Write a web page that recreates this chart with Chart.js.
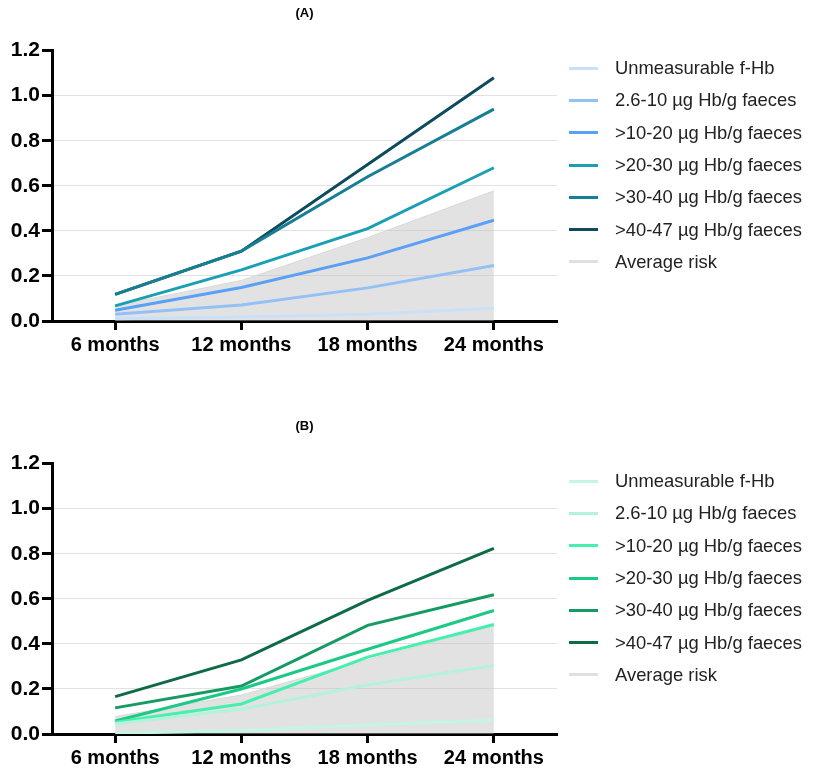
<!DOCTYPE html>
<html lang="en">
<head>
    <meta charset="UTF-8">
    <title>f-Hb risk over time</title>
    <script src="https://cdn.jsdelivr.net/npm/chart.js"></script>
    <style>
        body {
            margin: 0;
            background: #fff;
            font-family: "Liberation Sans", Arial, sans-serif;
        }

        .panel {
            position: absolute;
            left: 0;
            width: 813px;
        }

        .plot {
            position: absolute;
            left: 0;
            top: 0;
            width: 570px;
        }

        .legend {
            position: absolute;
            left: 569px;
            top: 52px;
            margin: 0;
            padding: 0;
            list-style: none;
        }

        .legend li {
            display: flex;
            align-items: center;
            height: 32.3px;
            font-size: 18.4px;
            color: #222;
            white-space: nowrap;
        }

        .legend .swatch {
            display: inline-block;
            width: 29px;
            height: 3px;
            margin-right: 17px;
        }
    </style>
</head>
<body>
    <div class="panel" style="top:0;height:370px">
        <div class="plot" style="height:370px"><canvas id="chartA"></canvas></div>
        <ul class="legend" id="legendA"></ul>
    </div>

    <div class="panel" style="top:413px;height:363px">
        <div class="plot" style="height:363px"><canvas id="chartB"></canvas></div>
        <ul class="legend" id="legendB"></ul>
    </div>

    <script>
        const months = ['6 months', '12 months', '18 months', '24 months'];
        const seriesLabels = [
            'Unmeasurable f-Hb',
            '2.6-10 µg Hb/g faeces',
            '>10-20 µg Hb/g faeces',
            '>20-30 µg Hb/g faeces',
            '>30-40 µg Hb/g faeces',
            '>40-47 µg Hb/g faeces'
        ];
        const avgLabel = 'Average risk';
        const yTicks = [0, 0.2, 0.4, 0.6, 0.8, 1.0, 1.2];

        // Panel A values
        const unmeasA = [0.01, 0.018, 0.03, 0.057];
        const f2to10A = [0.03, 0.071, 0.147, 0.246];
        const f10to20A = [0.048, 0.149, 0.28, 0.447];
        const f20to30A = [0.067, 0.227, 0.41, 0.68];
        const f30to40A = [0.118, 0.31, 0.64, 0.94];
        const f40to47A = [0.118, 0.31, 0.695, 1.08];
        const avgA = [0.068, 0.18, 0.37, 0.578];

        // Panel B values
        const unmeasB = [0.003, 0.015, 0.04, 0.062];
        const f2to10B = [0.045, 0.11, 0.218, 0.304];
        const f10to20B = [0.052, 0.133, 0.341, 0.486];
        const f20to30B = [0.058, 0.2, 0.376, 0.548];
        const f30to40B = [0.116, 0.213, 0.482, 0.618];
        const f40to47B = [0.166, 0.329, 0.593, 0.824];
        const avgB = [0.077, 0.173, 0.33, 0.48];

        const coloursA = ['#c9e0f8', '#94c1f5', '#5aa0f5', '#1a9fb5', '#167f93', '#0e4b5c'];
        const coloursB = ['#c3f6e3', '#b2f3da', '#45f0ae', '#1cc985', '#159a63', '#0f6b45'];

        function buildLegend(id, colours) {
            const ul = document.getElementById(id);
            const items = seriesLabels.map((label, i) => [label, colours[i]]);
            items.push([avgLabel, '#e0e0e0']);
            items.forEach(([label, colour]) => {
                const li = document.createElement('li');
                const sw = document.createElement('span');
                sw.className = 'swatch';
                sw.style.background = colour;
                li.appendChild(sw);
                li.appendChild(document.createTextNode(label));
                ul.appendChild(li);
            });
        }

        function buildChart(id, title, series, avg, colours, xHeight) {
            const datasets = series.map((values, i) => ({
                label: seriesLabels[i],
                data: values,
                borderColor: colours[i],
                backgroundColor: colours[i],
                borderWidth: 3,
                pointRadius: 0,
                tension: 0,
                fill: false,
                order: 1
            }));
            datasets.push({
                label: avgLabel,
                data: avg,
                borderColor: '#d8d8d8',
                backgroundColor: 'rgba(190,190,190,0.44)',
                borderWidth: 1,
                pointRadius: 0,
                tension: 0,
                fill: 'origin',
                order: 10
            });

            new Chart(document.getElementById(id), {
                type: 'line',
                data: { labels: months, datasets: datasets },
                options: {
                    responsive: true,
                    maintainAspectRatio: false,
                    animation: false,
                    layout: { padding: { left: 0, right: 13, top: 0, bottom: 0 } },
                    plugins: {
                        legend: { display: false },
                        tooltip: { enabled: false },
                        title: {
                            display: true,
                            text: title,
                            fullSize: false,
                            color: '#000',
                            font: { family: 'Liberation Sans', size: 13, weight: 'bold' },
                            padding: { top: 6, bottom: 29 }
                        }
                    },
                    scales: {
                        x: {
                            type: 'category',
                            offset: true,
                            border: { color: '#000', width: 3 },
                            grid: {
                                drawOnChartArea: false,
                                offset: false,
                                tickLength: 9,
                                tickColor: '#000',
                                tickWidth: 3
                            },
                            ticks: {
                                color: '#000',
                                font: { family: 'Liberation Sans', size: 20, weight: 'bold' },
                                padding: 3,
                                maxRotation: 0
                            },
                            afterFit: s => { s.height = xHeight; }
                        },
                        y: {
                            min: 0,
                            max: 1.2,
                            afterBuildTicks: s => { s.ticks = yTicks.map(v => ({ value: v })); },
                            border: { color: '#000', width: 3 },
                            grid: {
                                color: c => (c.tick && c.tick.value > 0 && c.tick.value < 1.2) ? '#e2e2e2' : 'rgba(0,0,0,0)',
                                lineWidth: 1,
                                tickLength: 10,
                                tickColor: '#000',
                                tickWidth: 3
                            },
                            ticks: {
                                color: '#000',
                                font: { family: 'Liberation Sans', size: 21, weight: 'bold' },
                                padding: 2,
                                callback: v => Number(v).toFixed(1)
                            },
                            afterFit: s => { s.width = 52; }
                        }
                    }
                }
            });
        }

        buildLegend('legendA', coloursA);
        buildLegend('legendB', coloursB);
        buildChart('chartA', '(A)', [unmeasA, f2to10A, f10to20A, f20to30A, f30to40A, f40to47A], avgA, coloursA, 49);
        buildChart('chartB', '(B)', [unmeasB, f2to10B, f10to20B, f20to30B, f30to40B, f40to47B], avgB, coloursB, 42);
    </script>
</body>
</html>
